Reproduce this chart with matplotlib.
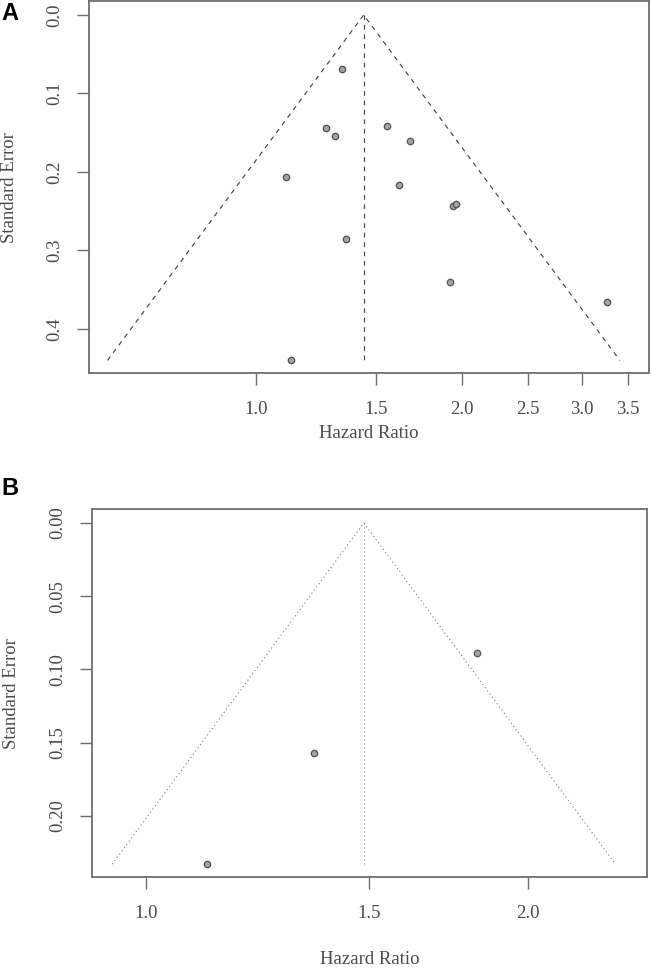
"""Funnel plots of hazard ratio against standard error, two panels."""

import matplotlib

matplotlib.use("Agg")
import matplotlib.pyplot as plt
import numpy as np
from matplotlib.ticker import FixedLocator, FixedFormatter, NullLocator

# panel A: 13 studies
hr_a = [1.106, 1.126, 1.266, 1.336, 1.306, 1.554, 1.683, 1.622, 1.941, 1.963, 1.357, 1.923, 3.264]
se_a = [0.207, 0.440, 0.144, 0.069, 0.154, 0.141, 0.161, 0.217, 0.243, 0.241, 0.285, 0.340, 0.366]
pooled_a = 1.4385
xticks_a = [1.0, 1.5, 2.0, 2.5, 3.0, 3.5]
xticklabels_a = ["1.0", "1.5", "2.0", "2.5", "3.0", "3.5"]
yticks_a = [0.0, 0.1, 0.2, 0.3, 0.4]
yticklabels_a = ["0.0", "0.1", "0.2", "0.3", "0.4"]

# panel B: 3 studies
hr_b = [1.117, 1.357, 1.824]
se_b = [0.233, 0.157, 0.089]
pooled_b = 1.485
xticks_b = [1.0, 1.5, 2.0]
xticklabels_b = ["1.0", "1.5", "2.0"]
yticks_b = [0.00, 0.05, 0.10, 0.15, 0.20]
yticklabels_b = ["0.00", "0.05", "0.10", "0.15", "0.20"]

SERIF = ["Liberation Serif", "DejaVu Serif"]
BOX_COLOR = "#6e6e6e"
TEXT_COLOR = "#4a4a4a"


def funnel(ax, hr, se, pooled, linestyle, line_color, line_width):
    """Draw the pseudo confidence funnel, the pooled line and the studies."""

    se_max = max(se)
    centre = np.log(pooled)
    lo = np.exp(centre - 1.96 * se_max)
    hi = np.exp(centre + 1.96 * se_max)
    ax.plot([lo, pooled, hi], [se_max, 0.0, se_max], linestyle=linestyle,
            color=line_color, linewidth=line_width)
    ax.plot([pooled, pooled], [0.0, se_max], linestyle=linestyle,
            color=line_color, linewidth=line_width)
    ax.plot(hr, se, linestyle="None", marker="o", markersize=4.6,
            markerfacecolor="#a3a3a3", markeredgecolor="#505050",
            markeredgewidth=0.9)


def style_axes(ax, xticks, xticklabels, yticks, yticklabels, xlim, ylim):
    ax.set_xscale("log")
    ax.set_xlim(*xlim)
    ax.set_ylim(*ylim)
    ax.xaxis.set_major_locator(FixedLocator(xticks))
    ax.xaxis.set_major_formatter(FixedFormatter(xticklabels))
    ax.xaxis.set_minor_locator(NullLocator())
    ax.set_yticks(yticks)
    ax.set_yticklabels(yticklabels, rotation=90, va="center")
    ax.tick_params(direction="out", length=8.5, width=1.0, color=BOX_COLOR,
                   labelcolor=TEXT_COLOR, labelsize=13.5)
    ax.tick_params(axis="x", pad=11.5)
    ax.tick_params(axis="y", pad=10)
    for label in ax.get_xticklabels() + ax.get_yticklabels():
        label.set_family(SERIF)
    for spine in ax.spines.values():
        spine.set_color(BOX_COLOR)
        spine.set_linewidth(1.3)


fig = plt.figure(figsize=(6.51, 9.68), dpi=100)

ax_a = fig.add_axes([0.1367, 0.6147, 0.8607, 0.3838])
funnel(ax_a, hr_a, se_a, pooled_a, (0, (4, 4)), "#454545", 0.85)
style_axes(ax_a, xticks_a, xticklabels_a, yticks_a, yticklabels_a,
           (0.5705, 3.763), (0.456, -0.0172))
ax_a.text(0.5, -0.164, "Hazard Ratio", transform=ax_a.transAxes, ha="center",
          va="center", fontsize=13.5, family=SERIF, color=TEXT_COLOR)
ax_a.text(-0.141, 0.5, "Standard Error", transform=ax_a.transAxes, ha="center",
          va="center", rotation=90, fontsize=13.5, family=SERIF, color=TEXT_COLOR)

ax_b = fig.add_axes([0.1418, 0.0937, 0.8513, 0.3802])
funnel(ax_b, hr_b, se_b, pooled_b, (0, (1, 2.6)), "#7a7a7a", 0.8)
style_axes(ax_b, xticks_b, xticklabels_b, yticks_b, yticklabels_b,
           (0.9071, 2.481), (0.242, -0.00936))
ax_b.text(0.5, -0.222, "Hazard Ratio", transform=ax_b.transAxes, ha="center",
          va="center", fontsize=13.5, family=SERIF, color=TEXT_COLOR)
ax_b.text(-0.145, 0.5, "Standard Error", transform=ax_b.transAxes, ha="center",
          va="center", rotation=90, fontsize=13.5, family=SERIF, color=TEXT_COLOR)

fig.text(0.002, 0.986, "A", fontsize=17, fontweight="bold",
         family=["Liberation Sans", "DejaVu Sans"], ha="left", va="center")
fig.text(0.002, 0.495, "B", fontsize=17, fontweight="bold",
         family=["Liberation Sans", "DejaVu Sans"], ha="left", va="center")

fig.savefig("out.png", dpi=100)
